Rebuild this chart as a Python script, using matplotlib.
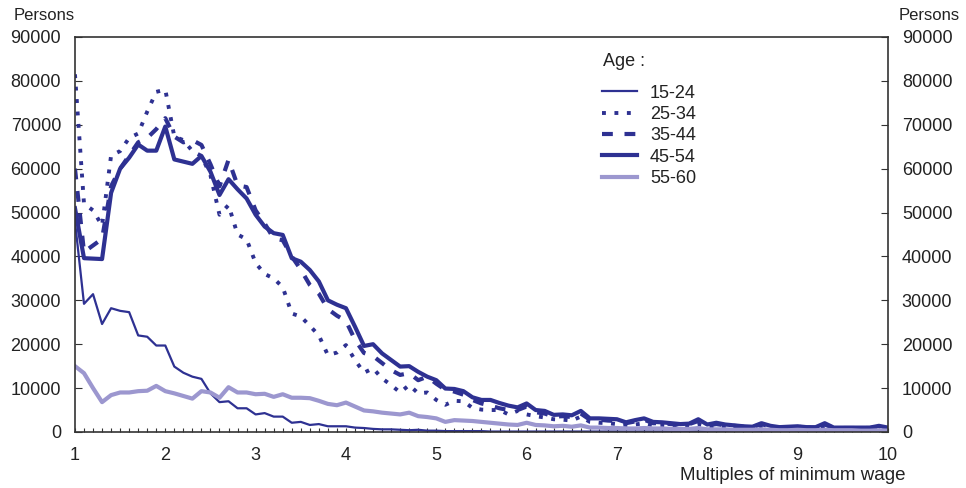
import numpy as np
import matplotlib
matplotlib.use("Agg")
import matplotlib.pyplot as plt
from matplotlib.ticker import MultipleLocator

plt.rcParams['font.family'] = ['Liberation Sans', 'DejaVu Sans']

# multiples of minimum wage, 1.0 .. 10.0 by 0.1
wage = np.round(np.arange(1.0, 10.01, 0.1), 1)

# persons (thousands)
age_15_24 = [48, 29.2, 31.4, 24.6, 28.2, 27.6, 27.3, 22.0, 21.7, 19.7,
             19.7, 14.9, 13.5, 12.6, 12.1, 8.8, 6.8, 7.0, 5.4, 5.4,
             4.0, 4.3, 3.5, 3.5, 2.1, 2.3, 1.6, 1.8, 1.3, 1.3,
             1.3, 1.0, 0.9, 0.7, 0.6, 0.6, 0.5, 0.4, 0.5, 0.3,
             0.3, 0.2, 0.2, 0.2, 0.2, 0.2, 0.1, 0.1, 0.1, 0.1,
             0.1, 0.1, 0.1, 0.1, 0.1, 0.1, 0.1, 0.1, 0.1, 0.1,
             0.1, 0.1, 0.1, 0.1, 0.1, 0.1, 0.1, 0.1, 0.1, 0.1,
             0.1, 0.1, 0.1, 0.1, 0.1, 0.1, 0.1, 0.1, 0.1, 0.1,
             0.1, 0.1, 0.1, 0.1, 0.1, 0.1, 0.1, 0.1, 0.1, 0.1, 0.1]
age_25_34 = [81.5, 52, 50.5, 47, 63, 64, 67, 68, 73, 77.5,
             78, 67.3, 66.5, 64, 62.9, 58.5, 49.5, 51.7, 45, 43.9,
             38.5, 36, 35, 33, 27, 26.3, 24.2, 22, 17.5, 18.1,
             19.8, 16.4, 13.5, 14.5, 12.2, 10.7, 9.0, 10.7, 8.8, 9.0,
             7.3, 6.2, 7.1, 7.0, 5.5, 5.1, 5.0, 5.0, 4.0, 4.8,
             4.0, 3.6, 3.3, 2.9, 2.8, 2.6, 3.5, 2.3, 2.1, 2.0,
             1.8, 1.6, 1.7, 2.0, 1.5, 1.6, 1.4, 1.3, 1.4, 1.8,
             1.2, 1.4, 1.2, 1.1, 1.0, 0.9, 1.4, 1.0, 0.8, 0.9,
             1.0, 0.8, 0.8, 1.3, 0.7, 0.7, 0.7, 0.7, 0.7, 1.0, 0.7]
age_35_44 = [60, 41, 42.5, 44, 56, 60, 63, 66, 67, 69,
             71.5, 67.3, 66, 66.5, 65.4, 61, 56, 62, 56.2, 55.8,
             50.5, 47.5, 44.1, 43.7, 40, 37, 33.5, 31.5, 28, 26.5,
             25.3, 21, 18, 17.3, 15.7, 14.1, 13.0, 13.4, 11.8, 12.6,
             11, 9.6, 9.2, 8.5, 7.3, 6.5, 6.0, 5.4, 5.0, 5.0,
             5.8, 4.5, 4.2, 3.5, 3.6, 3.4, 4.2, 2.8, 2.8, 2.6,
             2.5, 2.0, 2.4, 2.8, 2.0, 2.0, 1.8, 1.7, 1.8, 2.5,
             1.5, 1.8, 1.5, 1.4, 1.2, 1.1, 1.8, 1.2, 1.0, 1.1,
             1.2, 1.0, 1.0, 1.7, 0.9, 0.9, 0.9, 0.9, 0.9, 1.2, 0.8]
age_45_54 = [51, 39.6, 39.5, 39.4, 54.5, 60, 62.5, 65.5, 64.1, 64.1,
             69.6, 62.1, 61.6, 61.1, 62.9, 59.3, 54.0, 57.6, 55.3, 53.2,
             49.5, 46.8, 45.3, 44.9, 39.6, 38.8, 36.9, 34.3, 30, 29,
             28.2, 24, 19.6, 20, 17.9, 16.4, 14.9, 15.0, 13.7, 12.6,
             11.8, 9.9, 9.8, 9.3, 7.9, 7.3, 7.3, 6.6, 6.0, 5.6,
             6.5, 5.0, 4.8, 3.9, 4.0, 3.8, 4.8, 3.1, 3.1, 3.0,
             2.9, 2.2, 2.7, 3.1, 2.3, 2.2, 2.0, 1.8, 1.9, 2.9,
             1.7, 2.1, 1.7, 1.5, 1.3, 1.2, 2.0, 1.4, 1.1, 1.2,
             1.3, 1.1, 1.1, 2.0, 1.0, 1.0, 1.0, 1.0, 1.0, 1.4, 1.0]
age_55_60 = [15.0, 13.4, 10.0, 6.8, 8.4, 9.0, 9.0, 9.3, 9.4, 10.5,
             9.3, 8.8, 8.2, 7.6, 9.3, 9.0, 7.8, 10.2, 9.0, 9.0,
             8.6, 8.7, 8.0, 8.6, 7.8, 7.8, 7.7, 7.1, 6.4, 6.1,
             6.7, 5.8, 4.9, 4.7, 4.4, 4.2, 4.0, 4.4, 3.6, 3.4,
             3.1, 2.3, 2.7, 2.6, 2.5, 2.3, 2.1, 1.9, 1.7, 1.6,
             2.1, 1.6, 1.5, 1.3, 1.4, 1.2, 1.5, 1.0, 1.0, 0.9,
             0.9, 0.8, 0.8, 0.9, 0.8, 0.8, 0.7, 0.7, 0.7, 0.9,
             0.6, 0.6, 0.6, 0.5, 0.5, 0.5, 0.6, 0.5, 0.4, 0.4,
             0.5, 0.4, 0.4, 0.5, 0.4, 0.4, 0.4, 0.3, 0.3, 0.4, 0.3]

labels = ["15-24", "25-34", "35-44", "45-54", "55-60"]

dark = "#2e3192"
light = "#9c97cf"
txt = "#222222"

fig = plt.figure(figsize=(9.66, 4.88), dpi=100)
ax = fig.add_axes([0.0776, 0.1148, 0.8416, 0.8094])

ax.plot(wage, np.array(age_15_24) * 1000, color=dark, lw=1.6, label=labels[0])
ax.plot(wage, np.array(age_25_34) * 1000, color=dark, lw=2.8,
        linestyle=(0, (1, 2.2)), dash_capstyle='butt', label=labels[1])
ax.plot(wage, np.array(age_35_44) * 1000, color=dark, lw=3.0,
        linestyle=(0, (2.6, 2.8)), dash_capstyle='butt', label=labels[2])
ax.plot(wage, np.array(age_45_54) * 1000, color=dark, lw=3.0, label=labels[3])
ax.plot(wage, np.array(age_55_60) * 1000, color=light, lw=3.0, label=labels[4])

ax.set_xlim(1, 10)
ax.set_ylim(0, 90000)
ax.xaxis.set_major_locator(MultipleLocator(1))
ax.xaxis.set_minor_locator(MultipleLocator(0.1))
ax.yaxis.set_major_locator(MultipleLocator(10000))

for s in ax.spines.values():
    s.set_color("#333333")
    s.set_linewidth(1.2)

ax.tick_params(axis='x', which='both', direction='in', length=3, width=0.8,
               colors="#333333", labelcolor=txt, labelsize=13, pad=11)
ax.tick_params(axis='y', which='major', direction='in', length=5, width=0.8,
               left=True, right=True, labelleft=True, labelright=True,
               colors="#333333", labelcolor=txt, labelsize=13, pad=10)

fig.text(0.046, 0.968, "Persons", fontsize=12, color=txt, ha='center', va='center')
fig.text(0.962, 0.968, "Persons", fontsize=12, color=txt, ha='center', va='center')
ax.set_xlabel("Multiples of minimum wage", fontsize=13.5, color=txt)
ax.xaxis.set_label_coords(1.021, -0.109)
ax.xaxis.label.set_ha('right')
ax.xaxis.label.set_va('center')

# legend title placed separately to get the wider gap under it
fig.text(603 / 966, 1 - 62 / 488, "Age :", fontsize=13, color=txt, ha='left', va='center')
leg = ax.legend(loc='upper left', bbox_to_anchor=(0.6375, 0.902),
                frameon=False, fontsize=13, handlelength=1.9,
                handletextpad=0.75, labelspacing=0.24, borderpad=0)
for t in leg.get_texts():
    t.set_color(txt)

fig.savefig("out.png", dpi=100)
